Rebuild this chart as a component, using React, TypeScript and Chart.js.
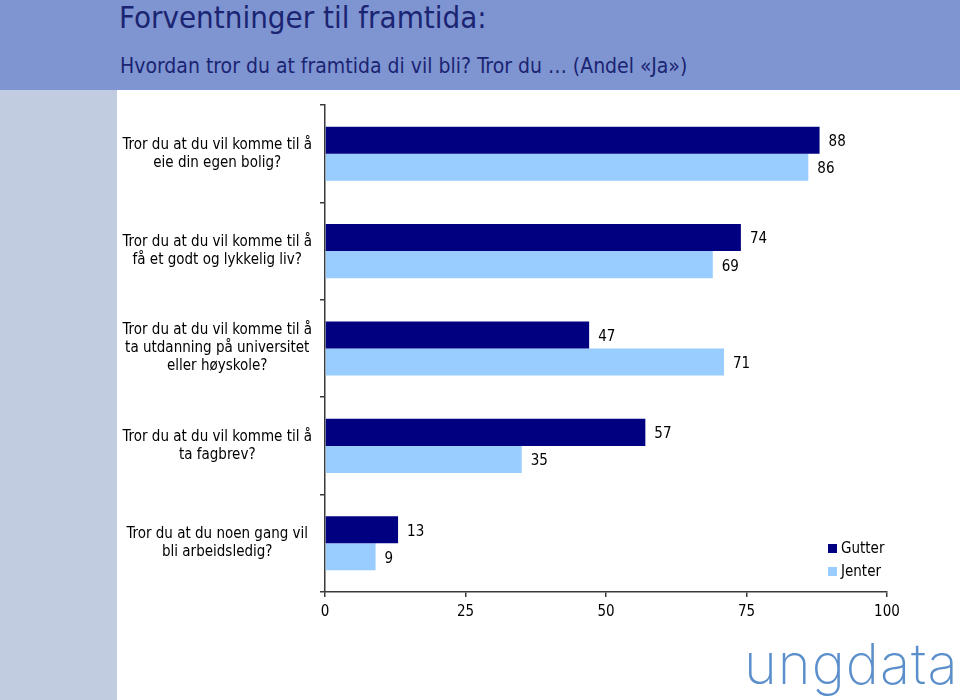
import React, { useEffect, useRef } from "react";
import { Chart, registerables } from "chart.js";

Chart.register(...registerables);

const categories: string[][] = [
  ["Tror du at du vil komme til å", "eie din egen bolig?"],
  ["Tror du at du vil komme til å", "få et godt og lykkelig liv?"],
  ["Tror du at du vil komme til å", "ta utdanning på universitet", "eller høyskole?"],
  ["Tror du at du vil komme til å", "ta fagbrev?"],
  ["Tror du at du noen gang vil", "bli arbeidsledig?"],
];
const gutter: number[] = [88, 74, 47, 57, 13];
const jenter: number[] = [86, 69, 71, 35, 9];
const seriesNames: string[] = ["Gutter", "Jenter"];
const seriesColors: string[] = ["#000080", "#99ccff"];
const xTicks: number[] = [0, 25, 50, 75, 100];

const FONT = "'DejaVu Sans Condensed', 'DejaVu Sans', sans-serif";
const AXIS = "#3a3a3a";

const valueLabels = {
  id: "valueLabels",
  afterDatasetsDraw(chart: any) {
    const ctx = chart.ctx;
    ctx.save();
    ctx.font = `15px ${FONT}`;
    ctx.fillStyle = "#000";
    ctx.textAlign = "left";
    ctx.textBaseline = "middle";
    chart.data.datasets.forEach((ds: any, di: number) => {
      const meta = chart.getDatasetMeta(di);
      meta.data.forEach((bar: any, i: number) => {
        ctx.fillText(String(ds.data[i]), bar.x + 9, bar.y + 2);
      });
    });
    ctx.restore();
  },
};

export default function App() {
  const ref = useRef<HTMLCanvasElement | null>(null);

  useEffect(() => {
    if (!ref.current) return;
    const chart = new Chart(ref.current, {
      type: "bar",
      data: {
        labels: categories,
        datasets: [
          { label: seriesNames[0], data: gutter, backgroundColor: seriesColors[0], borderWidth: 0 },
          { label: seriesNames[1], data: jenter, backgroundColor: seriesColors[1], borderWidth: 0 },
        ],
      },
      options: {
        indexAxis: "y",
        responsive: false,
        animation: false,
        datasets: { bar: { categoryPercentage: 0.555, barPercentage: 1 } },
        layout: { padding: { top: 15, right: 73, bottom: 78, left: 0 } },
        plugins: { legend: { display: false }, tooltip: { enabled: false }, title: { display: false } },
        scales: {
          x: {
            type: "linear",
            min: 0,
            max: 100,
            afterBuildTicks: (s: any) => {
              s.ticks = xTicks.map((v) => ({ value: v }));
            },
            ticks: { padding: 6, color: "#000", font: { family: FONT, size: 15 } },
            grid: { drawOnChartArea: false, drawTicks: true, tickLength: 5, color: AXIS, lineWidth: 1.5 },
            border: { color: AXIS, width: 1.5 },
            afterFit: (s: any) => {
              s.height = 30;
            },
          },
          y: {
            type: "category",
            grid: { drawOnChartArea: false, drawTicks: true, tickLength: 5, color: AXIS, offset: true, lineWidth: 1.5 },
            border: { color: AXIS, width: 1.5 },
            ticks: { crossAlign: "center", padding: 8, color: "#000", font: { family: FONT, size: 15, lineHeight: 1.2 } },
            afterFit: (s: any) => {
              s.width = 208;
              s.paddingTop = 0;
              s.paddingBottom = 0;
            },
          },
        },
      },
      plugins: [valueLabels],
    } as any);
    return () => chart.destroy();
  }, []);

  return (
    <div style={{ position: "absolute", left: 0, top: 0, width: 960, height: 700, background: "#fff", overflow: "hidden" }}>
      <div style={{ position: "absolute", left: 0, top: 0, width: 960, height: 90, background: "#7f95d1" }} />
      <div style={{ position: "absolute", left: 0, top: 90, width: 117, height: 610, background: "#c1cce0" }} />
      <div style={{ position: "absolute", left: 119, top: -1, fontFamily: FONT, fontSize: 31, color: "#1b2472", whiteSpace: "nowrap" }}>
        Forventninger til framtida:
      </div>
      <div style={{ position: "absolute", left: 120, top: 54, fontFamily: FONT, fontSize: 21, color: "#1b2472", whiteSpace: "nowrap" }}>
        Hvordan tror du at framtida di vil bli? Tror du … (Andel «Ja»)
      </div>
      <canvas ref={ref} width={843} height={610} style={{ position: "absolute", left: 117, top: 90, width: 843, height: 610 }} />
      <div style={{ position: "absolute", left: 828, top: 537, fontFamily: FONT, fontSize: 15, color: "#000", lineHeight: "23px" }}>
        {seriesNames.map((n, i) => (
          <div key={n} style={{ display: "flex", alignItems: "center" }}>
            <span style={{ display: "inline-block", width: 9, height: 9, background: seriesColors[i], marginRight: 4 }} />
            <span>{n}</span>
          </div>
        ))}
      </div>
      <div style={{ position: "absolute", left: 744, top: 636, fontFamily: "Inter, 'Open Sans', sans-serif", fontWeight: 200, fontSize: 56, lineHeight: 1, color: "#5b8fcb", letterSpacing: 1, whiteSpace: "nowrap" }}>
        ungdata
      </div>
    </div>
  );
}
